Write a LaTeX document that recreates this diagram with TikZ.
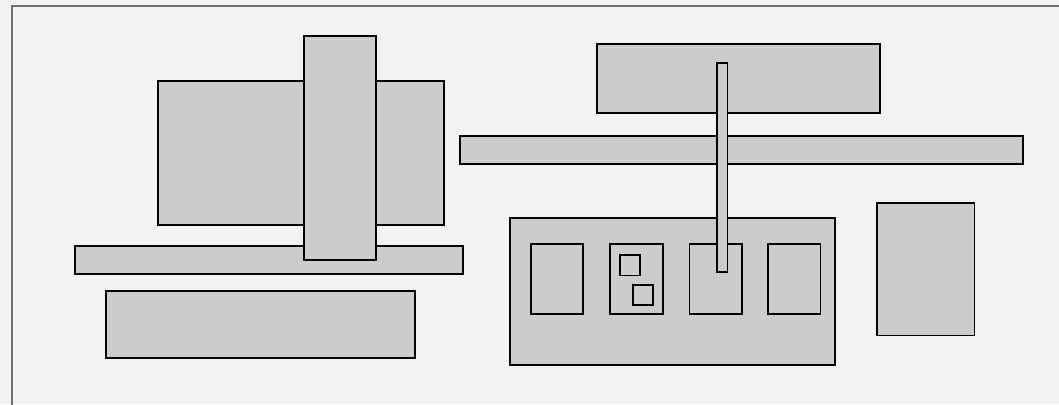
\documentclass[tikz,border=0pt]{standalone}
\definecolor{bg}{HTML}{F2F2F2}
\definecolor{part}{HTML}{CCCCCC}
\definecolor{frame}{HTML}{707070}
\begin{document}
\begin{tikzpicture}[x=1pt,y=-1pt,
  partbox/.style={fill=part,draw=black,line width=1.4pt},
  hole/.style={draw=black,line width=1.4pt}]
\useasboundingbox (0,0) rectangle (1059,404);
\fill[bg] (0,0) rectangle (1059,404);
\begin{scope}
\clip (0,0) rectangle (1059,404);
\draw[frame,line width=1.5pt] (12,6) rectangle (1070,420);
\end{scope}
% left assembly
\draw[partbox] (158,81) rectangle (444,225);
\draw[partbox] (75,246) rectangle (463,274);
\draw[partbox] (304,36) rectangle (376,260);
\draw[partbox] (106,291) rectangle (415,358);
% right assembly
\draw[partbox] (597,44) rectangle (880,113);
\draw[partbox] (460,136) rectangle (1023,164);
\draw[partbox] (510,218) rectangle (835,365);
\draw[hole] (531,244) rectangle (583,314);
\draw[hole] (610,244) rectangle (663,314);
\draw[hole] (620,255) rectangle (640,275.5);
\draw[hole] (633,285) rectangle (653,305);
\draw[hole] (689.5,244) rectangle (742,314);
\draw[hole] (768,244) rectangle (820.5,314);
\draw[partbox] (717,63) rectangle (727.5,272);
\draw[partbox] (877,203) rectangle (974.5,335.5);
\end{tikzpicture}
\end{document}
